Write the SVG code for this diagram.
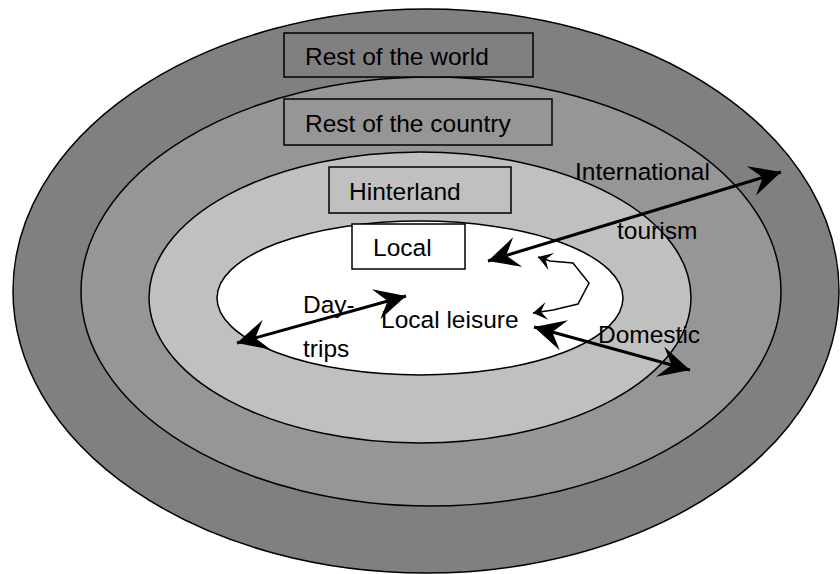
<svg xmlns="http://www.w3.org/2000/svg" width="840" height="574" viewBox="0 0 840 574">
  <style>
    .ring { stroke: #000; stroke-width: 1.5; }
    .box { stroke: #000; stroke-width: 1.5; }
    .lbl { font-family: "Liberation Sans", Arial, sans-serif; font-size: 24.5px; fill: #000; }
    .big { stroke: #000; stroke-width: 3; fill: none; marker-start: url(#headBig); marker-end: url(#headBig); }
    .loop { stroke: #000; stroke-width: 1.5; fill: none; marker-start: url(#headSmall); marker-end: url(#headSmall); }
  </style>
  <defs>
    <marker id="headBig" markerUnits="userSpaceOnUse" viewBox="-34 -17 36 34" refX="0" refY="0" markerWidth="36" markerHeight="34" orient="auto-start-reverse">
      <path d="M0,0 L-31,-15.5 L-19,0 L-31,15.5 Z" fill="#000"/>
    </marker>
    <marker id="headSmall" markerUnits="userSpaceOnUse" viewBox="-16 -11 18 22" refX="0" refY="0" markerWidth="18" markerHeight="22" orient="auto-start-reverse">
      <path d="M0,0 L-14,-9 L-8,0 L-14,9 Z" fill="#000"/>
    </marker>
  </defs>

  <!-- concentric zones -->
  <g id="zone-world"><ellipse class="ring" cx="426" cy="291" rx="413" ry="282" fill="#808080"/></g>
  <g id="zone-country"><ellipse class="ring" cx="431" cy="291.5" rx="350" ry="214.5" fill="#969696"/></g>
  <g id="zone-hinterland"><ellipse class="ring" cx="420" cy="297.5" rx="271" ry="145.5" fill="#c0c0c0"/></g>
  <g id="zone-local"><ellipse class="ring" cx="420" cy="298" rx="203" ry="77" fill="#ffffff"/></g>

  <!-- zone labels -->
  <g id="label-world">
    <rect class="box" x="284" y="33" width="249" height="44" fill="#808080"/>
    <text class="lbl" x="305" y="65">Rest of the world</text>
  </g>
  <g id="label-country">
    <rect class="box" x="284" y="99" width="268" height="46" fill="#969696"/>
    <text class="lbl" x="305" y="132">Rest of the country</text>
  </g>
  <g id="label-hinterland">
    <rect class="box" x="329" y="167" width="182" height="46" fill="#c0c0c0"/>
    <text class="lbl" x="349" y="200">Hinterland</text>
  </g>
  <g id="label-local">
    <rect class="box" x="352" y="224" width="113" height="45" fill="#ffffff"/>
    <text class="lbl" x="373" y="256">Local</text>
  </g>

  <!-- flows -->
  <g id="connectors">
    <line class="big" x1="488" y1="261" x2="781" y2="172"/>
    <line class="big" x1="237" y1="343" x2="406" y2="296"/>
    <line class="big" x1="534" y1="327" x2="690" y2="370"/>
    <polyline class="loop" points="538,257 550,261 573,263 589,283 578,304 553,310 533,313"/>
  </g>

  <!-- flow labels -->
  <g id="flow-labels">
    <text class="lbl" x="575" y="180">International</text>
    <text class="lbl" x="617" y="239">tourism</text>
    <text class="lbl" x="598" y="343">Domestic</text>
    <text class="lbl" x="381" y="328">Local leisure</text>
    <text class="lbl" x="303" y="313">Day-</text>
    <text class="lbl" x="303" y="357">trips</text>
  </g>
</svg>
